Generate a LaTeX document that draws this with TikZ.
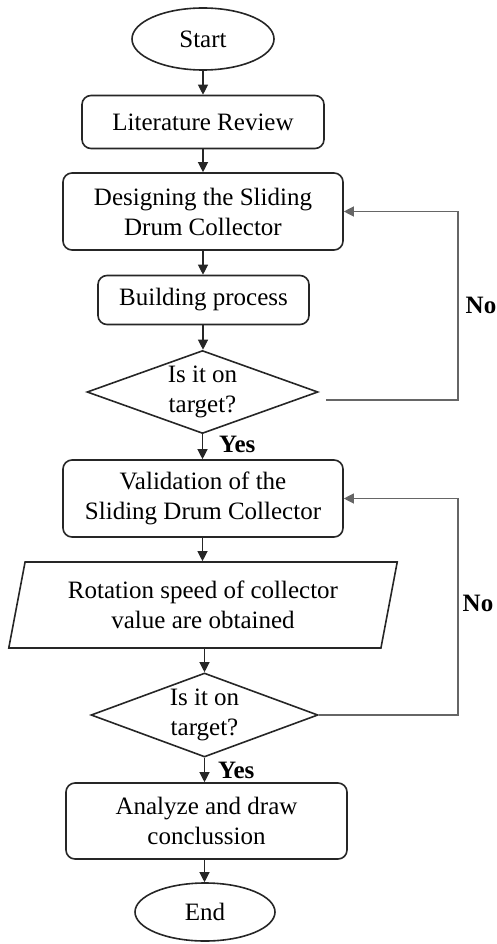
\documentclass[tikz,border=0pt]{standalone}
\usepackage{fontspec}
\setmainfont{Liberation Serif}
\usetikzlibrary{shapes.geometric,arrows.meta}
\begin{document}
\begin{tikzpicture}[x=1pt,y=-1pt,
	font=\fontsize{25}{30}\selectfont,
	startstop/.style={ellipse,draw=black!85,line width=1.6pt,inner sep=0pt},
	process/.style={rectangle,rounded corners=9pt,draw=black!85,line width=1.6pt,align=center,inner sep=0pt},
	decision/.style={diamond,draw=black!85,line width=1.6pt,align=center,inner sep=0pt,aspect=2.75},
	io/.style={trapezium,trapezium left angle=75.5,trapezium right angle=104.5,trapezium stretches=true,draw=black!85,line width=1.6pt,align=center,inner sep=0pt},
	arrow/.style={-{Triangle[length=10pt,width=10pt]},line width=1.2pt,draw=black!85},
	loopback/.style={-{Triangle[length=10pt,width=10pt]},line width=1.2pt,draw=black!60},
	lbl/.style={font=\fontsize{25}{30}\selectfont\bfseries,inner sep=0pt}]
	\useasboundingbox (0,0) rectangle (497,944);
	% first part
	\node[startstop,minimum width=142pt,minimum height=62pt] (start) at (203,39) {Start};
	\node[process,minimum width=242pt,minimum height=53pt] (lit) at (203,122) {Literature Review};
	\node[process,minimum width=280pt,minimum height=77pt] (design) at (203,211.5) {Designing the Sliding\\Drum Collector};
	\node[process,minimum width=211pt,minimum height=49pt] (build) at (203.5,300) {Building process};
	\node[decision,minimum width=231pt,minimum height=83pt] (dec1) at (202.5,392) {Is it on\\target?};
	% second part
	\node[process,minimum width=280pt,minimum height=77pt] (valid) at (203,498.5) {Validation of the\\Sliding Drum Collector};
	\node[io,minimum width=389pt,minimum height=86pt] (speed) at (203,605) {Rotation speed of collector\\value are obtained};
	\node[decision,minimum width=227pt,minimum height=84pt] (dec2) at (204.5,715) {Is it on\\target?};
	\node[process,minimum width=281pt,minimum height=76pt] (anlz) at (206.5,821) {Analyze and draw\\conclussion};
	\node[startstop,minimum width=140pt,minimum height=58pt] (stop) at (205,912) {End};
	% labels
	\node[lbl,anchor=west] (yesA) at (219,444) {Yes};
	\node[lbl,anchor=west] (yesB) at (218,770) {Yes};
	\node[lbl] (noA) at (481,305) {No};
	\node[lbl] (noB) at (478,603) {No};
	\coordinate (turnA) at (458,305);
	\coordinate (turnB) at (458,603);
	% arrows
	\draw[arrow] (start.south) -- (start.south |- lit.north);
	\draw[arrow] (start.south |- lit.south) -- (start.south |- design.north);
	\draw[arrow] (start.south |- design.south) -- (start.south |- build.north);
	\draw[arrow] (start.south |- build.south) -- (start.south |- dec1.north);
	\draw[arrow] (dec1.south) -- (dec1.south |- valid.north);
	\draw[arrow] (dec1.south |- valid.south) -- (dec1.south |- speed.north);
	\draw[arrow] (dec2.north |- speed.south) -- (dec2.north);
	\draw[arrow] (dec2.south) -- (dec2.south |- anlz.north);
	\draw[arrow] (dec2.south |- anlz.south) -- (dec2.south |- stop.north);
	% loops
	\draw[loopback] ([xshift=7pt,yshift=-8pt]dec1.east) -| (turnA) |- (design.east);
	\draw[loopback] (dec2.east) -| (turnB) |- (valid.east);
\end{tikzpicture}
\end{document}
